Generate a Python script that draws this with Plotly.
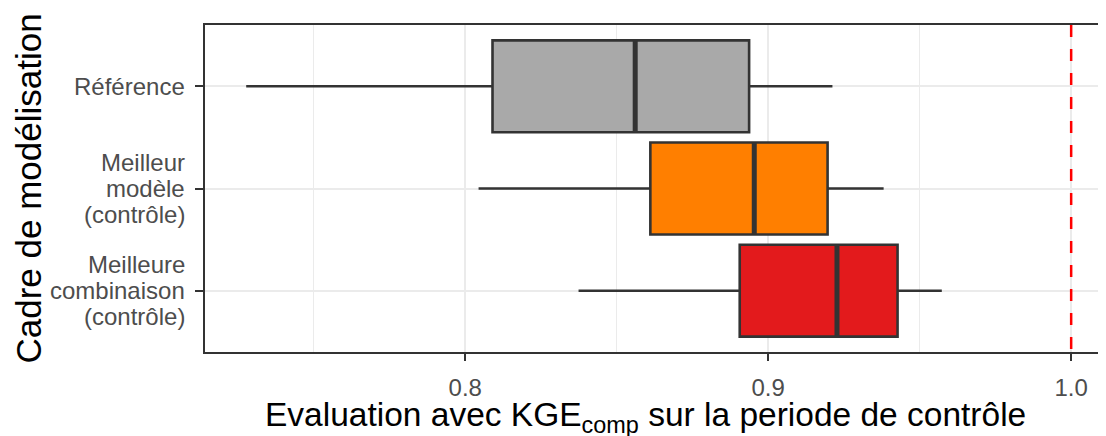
import plotly.graph_objects as go

# ---- data ----
categories = ["Référence", "Meilleur\nmodèle\n(contrôle)", "Meilleure\ncombinaison\n(contrôle)"]
lower_whisker = [0.7277, 0.8044, 0.8374]
q1_values = [0.8090, 0.8611, 0.8906]
median_values = [0.8561, 0.8954, 0.9227]
q3_values = [0.8937, 0.9196, 0.9427]
upper_whisker = [0.9212, 0.9381, 0.9573]
fill_colors = ["#A9A9A9", "#FF7F00", "#E31A1C"]
reference_line = 1.0
x_ticks = [0.8, 0.9, 1.0]
x_tick_labels = ["0.8", "0.9", "1.0"]
x_title = "Evaluation avec KGE<sub>comp</sub> sur la periode de contrôle"
y_title = "Cadre de modélisation"

FONT = "Liberation Sans, Arial, sans-serif"
GRID = "#EBEBEB"
DARK = "#333333"

fig = go.Figure()
cat_idx = list(range(len(categories)))

for i, cat in enumerate(categories):
    fig.add_trace(go.Box(
        orientation="h",
        y=[i],
        q1=[q1_values[i]], median=[median_values[i]], q3=[q3_values[i]],
        lowerfence=[lower_whisker[i]], upperfence=[upper_whisker[i]],
        fillcolor=fill_colors[i],
        line=dict(color=DARK, width=2.6),
        whiskerwidth=0,
        width=0.9,
        boxpoints=False,
        showlegend=False,
        hoverinfo="skip",
    ))

shapes = []
# thick median lines (ggplot fatten)
for i in cat_idx:
    shapes.append(dict(type="line", xref="x", yref="y",
                       x0=median_values[i], x1=median_values[i],
                       y0=i - 0.45, y1=i + 0.45,
                       line=dict(color=DARK, width=5), layer="above"))
# red dashed reference line
shapes.append(dict(type="line", xref="x", yref="paper",
                   x0=reference_line, x1=reference_line, y0=1, y1=0,
                   line=dict(color="#FF0000", width=2.5, dash="12px,12px"), layer="above"))

annotations = []
line_gap = 25.7
for i, cat in enumerate(categories):
    lines = cat.split("\n")
    n = len(lines)
    for k, txt in enumerate(lines):
        annotations.append(dict(
            text=txt, xref="paper", yref="y", x=0, y=i,
            xanchor="right", yanchor="middle", xshift=-18,
            yshift=-(k - (n - 1) / 2) * line_gap,
            showarrow=False, align="right",
            font=dict(family=FONT, size=24, color="#4D4D4D"),
        ))
annotations.append(dict(
    text=y_title, xref="paper", yref="paper", x=0, y=0.5,
    xanchor="center", yanchor="middle", xshift=-177, textangle=-90,
    showarrow=False, font=dict(family=FONT, size=35, color="#000000"),
))
annotations.append(dict(
    text=x_title, xref="paper", yref="paper", x=0.5, y=0,
    xanchor="center", yanchor="top", xshift=-10, yshift=-42,
    showarrow=False, font=dict(family=FONT, size=33.5, color="#000000"),
))

# the page adds an 8px body margin, so the figure is sized to fill the rest of the window
fig.update_layout(
    width=1098, height=428,
    margin=dict(l=197, r=0, t=17, b=84),
    paper_bgcolor="white", plot_bgcolor="white",
    boxmode="overlay",
    shapes=shapes,
    annotations=annotations,
    xaxis=dict(
        range=[0.7141, 1.0115],
        tickvals=x_ticks, ticktext=x_tick_labels,
        ticks="outside", ticklen=7, tickwidth=2, tickcolor=DARK,
        ticklabelstandoff=6,
        tickfont=dict(family=FONT, size=24, color="#4D4D4D"),
        showgrid=True, gridcolor=GRID, gridwidth=2,
        minor=dict(tickvals=[0.75, 0.85, 0.95], showgrid=True, gridcolor=GRID, gridwidth=1),
        showline=True, linecolor=DARK, linewidth=2, mirror=True,
        zeroline=False,
    ),
    yaxis=dict(
        range=[2.6, -0.6],
        tickvals=cat_idx, showticklabels=False,
        ticks="outside", ticklen=8, tickwidth=2, tickcolor=DARK,
        showgrid=True, gridcolor=GRID, gridwidth=2,
        showline=True, linecolor=DARK, linewidth=2, mirror=False,
        zeroline=False,
    ),
)

fig.write_html("out.html")
